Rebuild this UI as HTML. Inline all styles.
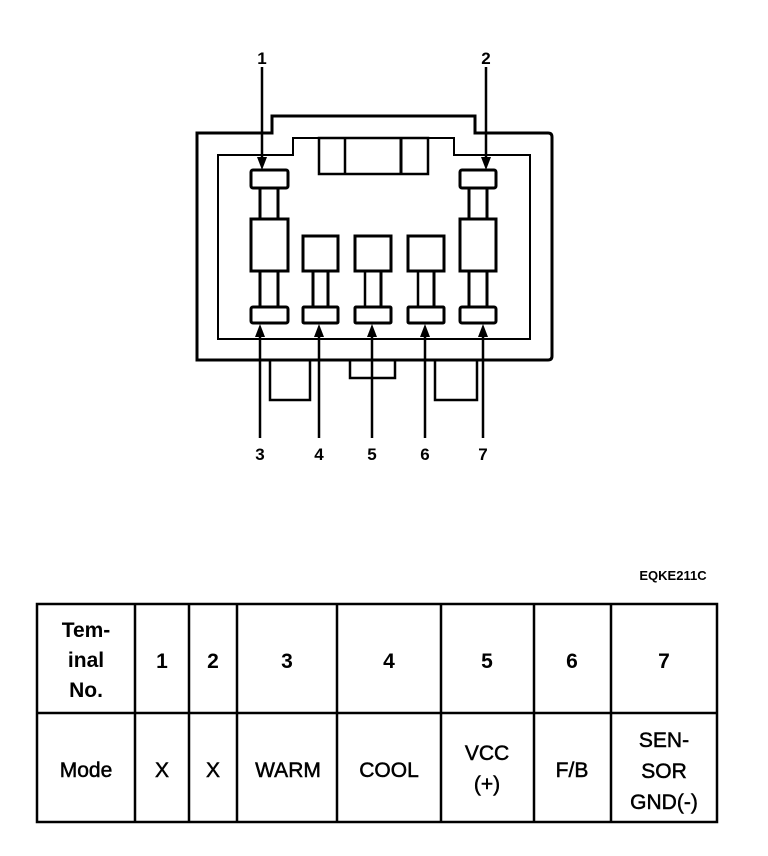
<!DOCTYPE html>
<html><head><meta charset="utf-8"><style>
html,body{margin:0;padding:0;background:#fff;}
svg{display:block;}
text{font-family:"Liberation Sans",Arial,sans-serif;fill:#000;}
</style></head><body>
<svg width="768" height="856" viewBox="0 0 768 856" xmlns="http://www.w3.org/2000/svg">
<g fill="none" stroke="#000">
<path d="M197,133 H272 V116 H475 V133 H548 Q552,133 552,137 V356 Q552,360 548,360 H197 Z" stroke-width="3"/>
<path d="M218,155 H293 V138 H454 V155 H530 V339 H218 Z" stroke-width="2"/>
<rect x="319" y="138" width="109" height="36" stroke-width="2.5"/>
<line x1="345" y1="138" x2="345" y2="174" stroke-width="2.5"/>
<line x1="401" y1="138" x2="401" y2="174" stroke-width="3"/>
<path d="M270,360 V400 H310 V360" stroke-width="2.5"/>
<path d="M350,360 V378 H395 V360" stroke-width="2.5"/>
<path d="M435,360 V400 H477 V360" stroke-width="2.5"/>
<rect x="251" y="170" width="37" height="18" rx="2" stroke-width="3"/>
<line x1="260" y1="188" x2="260" y2="219" stroke-width="3"/>
<line x1="278" y1="188" x2="278" y2="219" stroke-width="3"/>
<rect x="251" y="219" width="37" height="52" stroke-width="3"/>
<line x1="260" y1="271" x2="260" y2="307" stroke-width="3"/>
<line x1="278" y1="271" x2="278" y2="307" stroke-width="3"/>
<rect x="251" y="307" width="37" height="16" rx="2" stroke-width="3"/>
<rect x="460" y="170" width="36" height="18" rx="2" stroke-width="3"/>
<line x1="469" y1="188" x2="469" y2="219" stroke-width="3"/>
<line x1="487" y1="188" x2="487" y2="219" stroke-width="3"/>
<rect x="460" y="219" width="36" height="52" stroke-width="3"/>
<line x1="469" y1="271" x2="469" y2="307" stroke-width="3"/>
<line x1="487" y1="271" x2="487" y2="307" stroke-width="3"/>
<rect x="460" y="307" width="36" height="16" rx="2" stroke-width="3"/>
<rect x="303" y="236" width="35" height="35" stroke-width="3"/>
<line x1="313" y1="271" x2="313" y2="307" stroke-width="3"/>
<line x1="328" y1="271" x2="328" y2="307" stroke-width="3"/>
<rect x="303" y="307" width="35" height="16" rx="1" stroke-width="3"/>
<rect x="355" y="236" width="36" height="35" stroke-width="3"/>
<line x1="365" y1="271" x2="365" y2="307" stroke-width="2.5"/>
<line x1="381" y1="271" x2="381" y2="307" stroke-width="3"/>
<rect x="355" y="307" width="36" height="16" rx="1" stroke-width="3"/>
<rect x="408" y="236" width="36" height="35" stroke-width="3"/>
<line x1="418" y1="271" x2="418" y2="307" stroke-width="2.5"/>
<line x1="434" y1="271" x2="434" y2="307" stroke-width="3"/>
<rect x="408" y="307" width="36" height="16" rx="1" stroke-width="3"/>
<g stroke-width="2.5">
<line x1="262" y1="67" x2="262" y2="160"/>
<line x1="486" y1="67" x2="486" y2="160"/>
<line x1="260" y1="335" x2="260" y2="438"/>
<line x1="319" y1="335" x2="319" y2="438"/>
<line x1="372" y1="335" x2="372" y2="438"/>
<line x1="425" y1="335" x2="425" y2="438"/>
<line x1="483" y1="335" x2="483" y2="438"/>
</g>
</g>
<g fill="#000">
<polygon points="257,157 267,157 262,170"/>
<polygon points="481,157 491,157 486,170"/>
<polygon points="255,337 265,337 260,324"/>
<polygon points="314,337 324,337 319,324"/>
<polygon points="367,337 377,337 372,324"/>
<polygon points="420,337 430,337 425,324"/>
<polygon points="478,337 488,337 483,324"/>
</g>
<g font-size="17" font-weight="bold" text-anchor="middle">
<text x="262" y="64">1</text>
<text x="486" y="64">2</text>
<text x="260" y="460">3</text>
<text x="319" y="460">4</text>
<text x="372" y="460">5</text>
<text x="425" y="460">6</text>
<text x="483" y="460">7</text>
</g>
<text x="673" y="580" font-size="13" font-weight="bold" text-anchor="middle">EQKE211C</text>
<g fill="none" stroke="#000" stroke-width="2.5">
<rect x="37" y="604" width="680" height="218"/>
<line x1="37" y1="713" x2="717" y2="713"/>
<line x1="135" y1="604" x2="135" y2="822"/>
<line x1="189" y1="604" x2="189" y2="822"/>
<line x1="237" y1="604" x2="237" y2="822"/>
<line x1="337" y1="604" x2="337" y2="822"/>
<line x1="441" y1="604" x2="441" y2="822"/>
<line x1="534" y1="604" x2="534" y2="822"/>
<line x1="611" y1="604" x2="611" y2="822"/>
</g>
<g font-size="21" font-weight="bold" text-anchor="middle">
<text x="86" y="637">Tem-</text>
<text x="86" y="667">inal</text>
<text x="86" y="697">No.</text>
<text x="162" y="668">1</text>
<text x="213" y="668">2</text>
<text x="287" y="668">3</text>
<text x="389" y="668">4</text>
<text x="487" y="668">5</text>
<text x="572" y="668">6</text>
<text x="664" y="668">7</text>
</g>
<g font-size="21" text-anchor="middle" stroke="#000" stroke-width="0.5">
<text x="86" y="777">Mode</text>
<text x="162" y="777">X</text>
<text x="213" y="777">X</text>
<text x="288" y="777">WARM</text>
<text x="389" y="777">COOL</text>
<text x="487" y="760">VCC</text>
<text x="487" y="791">(+)</text>
<text x="572" y="777">F/B</text>
<text x="664" y="747">SEN-</text>
<text x="664" y="778">SOR</text>
<text x="664" y="809">GND(-)</text>
</g>
</svg>
</body></html>
